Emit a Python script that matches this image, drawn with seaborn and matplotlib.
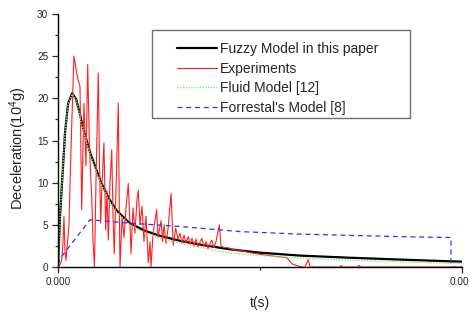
import pandas as pd
import seaborn as sns
import matplotlib.pyplot as plt
from matplotlib.patches import Rectangle
from matplotlib.transforms import ScaledTranslation

sns.set_style("ticks")
plt.rcParams['font.family'] = ['Liberation Sans', 'DejaVu Sans']
plt.rcParams['mathtext.default'] = 'regular'

# time in ms, deceleration in 10^4 g
t_model = [0, 0.02, 0.04, 0.07, 0.10, 0.14, 0.18, 0.22, 0.25, 0.32, 0.42, 0.50,
           0.58, 0.71, 0.86, 1.01, 1.21, 1.41, 1.70, 2.00, 2.40, 2.89, 3.39, 4.00]
fuzzy = [0, 6, 10, 16, 19.4, 20.6, 19.9, 18.0, 16.4, 13.5, 10.2, 8.2,
         6.7, 5.2, 4.3, 3.7, 3.1, 2.65, 2.1, 1.7, 1.35, 1.1, 0.88, 0.63]
fluid = [0, 6, 10, 16, 19.4, 20.5, 19.8, 17.8, 16.2, 13.3, 10.0, 8.0,
         6.5, 5.0, 4.0, 3.4, 2.8, 2.3, 1.65, 1.35, 1.05, 0.8, 0.6, 0.42]

t_forr = [0, 0.02, 0.317, 0.416, 0.713, 1.208, 1.802, 2.396, 3.386, 3.891, 3.891, 4.0]
forrestal = [0.3, 1.0, 5.6, 5.5, 5.2, 4.8, 4.2, 3.9, 3.6, 3.5, 0, 0]

t_exp = [0.000, 0.020, 0.037, 0.050, 0.059, 0.069, 0.079, 0.094, 0.109, 0.124,
         0.139, 0.158, 0.185, 0.203, 0.218, 0.235, 0.257, 0.277, 0.294, 0.312,
         0.334, 0.347, 0.361, 0.376, 0.399, 0.411, 0.423, 0.436, 0.455, 0.472,
         0.485, 0.498, 0.515, 0.532, 0.545, 0.557, 0.574, 0.597, 0.606, 0.614,
         0.634, 0.653, 0.673, 0.696, 0.713, 0.723, 0.743, 0.762, 0.782, 0.795,
         0.812, 0.832, 0.851, 0.871, 0.894, 0.911, 0.921, 0.941, 0.977, 0.990,
         1.020, 1.035, 1.050, 1.069, 1.089, 1.119, 1.141, 1.165, 1.188, 1.208,
         1.228, 1.248, 1.267, 1.290, 1.307, 1.327, 1.347, 1.366, 1.386, 1.423,
         1.446, 1.465, 1.485, 1.522, 1.545, 1.564, 1.597, 1.614, 1.644, 1.683,
         1.723, 1.762, 1.802, 1.901, 2.000, 2.099, 2.198, 2.267, 2.314, 2.356,
         2.413, 2.446, 2.478, 2.495, 2.792, 2.802, 2.822, 2.970, 2.980, 3.000,
         4.000]
experiments = [0, 0.3, 0.8, 3, 6.0, 2, 0.8, 3, 5, 12,
               18, 25, 23, 22, 21.4, 6.8, 19.4, 12, 24, 14,
               8.2, 3, 0, 10, 23, 12, 5.2, 10, 14.7, 4.4,
               9, 3.2, 10, 13.9, 6, 1.6, 9, 19.4, 8, 0,
               6, 3.5, 7, 9.9, 5, 1.6, 7, 4, 8, 9.1,
               5, 7.2, 3, 6, 0.5, 3, 0, 4, 6.8, 3.5,
               5.5, 3, 5, 2.8, 4.5, 8.7, 2.6, 4.6, 3.3, 4.0,
               2.8, 3.8, 2.9, 3.6, 2.7, 3.4, 2.5, 3.3, 2.4, 3.4,
               2.4, 3.0, 2.2, 3.2, 2.3, 3.0, 5.0, 2.5, 2.3, 2.3,
               2.1, 2.0, 2.0, 1.7, 1.5, 1.35, 1.2, 1.1, 0.4, 0.2,
               0, 0, 0.9, 0, 0, 0.2, 0, 0, 0.2, 0,
               0]

model_df = pd.DataFrame({"t": [v / 1000 for v in t_model], "fuzzy": fuzzy, "fluid": fluid})
exp_df = pd.DataFrame({"t": [v / 1000 for v in t_exp], "a": experiments})
forr_df = pd.DataFrame({"t": [v / 1000 for v in t_forr], "a": forrestal})

fig = plt.figure(figsize=(4.7, 3.12), dpi=100)
ax = fig.add_axes([0.1234, 0.1442, 0.8596, 0.8109])

sns.lineplot(data=model_df, x="t", y="fuzzy", ax=ax, color="black", lw=1.6,
             sort=False, estimator=None, label="Fuzzy Model in this paper")
sns.lineplot(data=exp_df, x="t", y="a", ax=ax, color="#ff2020", lw=0.8,
             sort=False, estimator=None, label="Experiments")
sns.lineplot(data=model_df, x="t", y="fluid", ax=ax, color="#88e888", lw=1.0,
             linestyle=(0, (1, 1)), sort=False, estimator=None, label="Fluid Model [12]")
sns.lineplot(data=forr_df, x="t", y="a", ax=ax, color="#3030ff", lw=0.9,
             linestyle=(0, (4, 3)), sort=False, estimator=None, label="Forrestal's Model [8]")

ax.set_xlim(0, 0.004)
ax.set_ylim(0, 30)
ax.set_xticks([0, 0.004])
ax.set_xticklabels(["0.000", "0.00"])
ax.set_xticks([0.002], minor=True)
ax.set_yticks([0, 5, 10, 15, 20, 25, 30])
ax.set_yticks([2.5, 7.5, 12.5, 17.5, 22.5, 27.5], minor=True)
ax.tick_params(which="major", length=4, width=0.9, labelsize=7.2, pad=3)
ax.tick_params(which="minor", length=2.5, width=0.9)
# right-hand tick label sits against the figure edge, as in the original
last = ax.get_xticklabels()[1]
last.set_ha("right")
last.set_transform(last.get_transform() + ScaledTranslation(5 / 72, 0, fig.dpi_scale_trans))
sns.despine(ax=ax)
for s in ["left", "bottom"]:
    ax.spines[s].set_linewidth(1.0)
    ax.spines[s].set_color("black")

ax.set_xlabel("t(s)", fontsize=10, labelpad=7)
ax.set_ylabel("Deceleration(10$^4$g)", fontsize=10.5)
ax.yaxis.set_label_coords(-0.072, 0.47)

ax.add_patch(Rectangle((0.233, 0.589), 0.638, 0.348, transform=ax.transAxes,
                       fill=False, edgecolor="#707070", lw=1.0, zorder=5))
ax.legend(loc="upper left", bbox_to_anchor=(0.2946, 0.889), frameon=False,
          fontsize=10, handlelength=2.9, handletextpad=0.2, labelspacing=0.4,
          borderpad=0, borderaxespad=0)

plt.savefig("out.png", dpi=100)
